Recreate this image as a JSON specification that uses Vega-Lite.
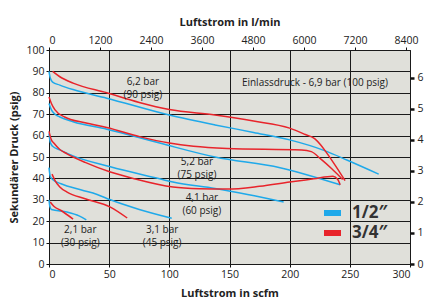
{
  "$schema": "https://vega.github.io/schema/vega-lite/v6.json",
  "width": 361,
  "height": 214,
  "autosize": "none",
  "padding": {"left": 49, "top": 50, "right": 20, "bottom": 40},
  "config": {
    "font": "Open Sans",
    "view": {"fill": "#e0e0da", "stroke": "#111", "strokeWidth": 1},
    "axis": {"labelFontSize": 10.5, "labelColor": "#222", "titleColor": "#222", "titleFontSize": 11, "titleFontWeight": "bold", "domain": false, "tickColor": "#111", "gridColor": "#1a1a1a", "gridOpacity": 1, "gridWidth": 1, "labelOverlap": false, "labelBound": false}
  },
  "datasets": {
    "curves": [
      {"size": "1/2″", "g": "90", "x": 0, "y": 90}, {"size": "1/2″", "g": "90", "x": 1, "y": 87}, {"size": "1/2″", "g": "90", "x": 3, "y": 85}, {"size": "1/2″", "g": "90", "x": 9, "y": 83.6}, {"size": "1/2″", "g": "90", "x": 20, "y": 81.5}, {"size": "1/2″", "g": "90", "x": 48, "y": 77.5}, {"size": "1/2″", "g": "90", "x": 100, "y": 69.6}, {"size": "1/2″", "g": "90", "x": 138, "y": 65}, {"size": "1/2″", "g": "90", "x": 170, "y": 61.5}, {"size": "1/2″", "g": "90", "x": 200, "y": 58}, {"size": "1/2″", "g": "90", "x": 229, "y": 53}, {"size": "1/2″", "g": "90", "x": 248, "y": 48.5}, {"size": "1/2″", "g": "90", "x": 274, "y": 42},
      {"size": "3/4″", "g": "90", "x": 3, "y": 90}, {"size": "3/4″", "g": "90", "x": 9, "y": 87.5}, {"size": "3/4″", "g": "90", "x": 20, "y": 84.5}, {"size": "3/4″", "g": "90", "x": 48, "y": 80}, {"size": "3/4″", "g": "90", "x": 75, "y": 75.5}, {"size": "3/4″", "g": "90", "x": 100, "y": 72.2}, {"size": "3/4″", "g": "90", "x": 138, "y": 69.6}, {"size": "3/4″", "g": "90", "x": 170, "y": 66.8}, {"size": "3/4″", "g": "90", "x": 200, "y": 63.5}, {"size": "3/4″", "g": "90", "x": 213, "y": 60.5}, {"size": "3/4″", "g": "90", "x": 221, "y": 58.5}, {"size": "3/4″", "g": "90", "x": 226, "y": 55.5}, {"size": "3/4″", "g": "90", "x": 230, "y": 52.5}, {"size": "3/4″", "g": "90", "x": 238, "y": 46}, {"size": "3/4″", "g": "90", "x": 246, "y": 39},
      {"size": "1/2″", "g": "75", "x": 0, "y": 75}, {"size": "1/2″", "g": "75", "x": 2, "y": 72}, {"size": "1/2″", "g": "75", "x": 5, "y": 70}, {"size": "1/2″", "g": "75", "x": 9, "y": 68.7}, {"size": "1/2″", "g": "75", "x": 20, "y": 66.5}, {"size": "1/2″", "g": "75", "x": 48, "y": 63}, {"size": "1/2″", "g": "75", "x": 92, "y": 56.5}, {"size": "1/2″", "g": "75", "x": 138, "y": 50}, {"size": "1/2″", "g": "75", "x": 192, "y": 45}, {"size": "1/2″", "g": "75", "x": 242, "y": 37},
      {"size": "3/4″", "g": "75", "x": 0, "y": 78}, {"size": "3/4″", "g": "75", "x": 2, "y": 75}, {"size": "3/4″", "g": "75", "x": 5, "y": 72}, {"size": "3/4″", "g": "75", "x": 13, "y": 68.7}, {"size": "3/4″", "g": "75", "x": 30, "y": 66}, {"size": "3/4″", "g": "75", "x": 48, "y": 63.8}, {"size": "3/4″", "g": "75", "x": 76, "y": 59.4}, {"size": "3/4″", "g": "75", "x": 100, "y": 56.5}, {"size": "3/4″", "g": "75", "x": 120, "y": 55}, {"size": "3/4″", "g": "75", "x": 148, "y": 54}, {"size": "3/4″", "g": "75", "x": 210, "y": 53.3}, {"size": "3/4″", "g": "75", "x": 218, "y": 52.5}, {"size": "3/4″", "g": "75", "x": 226, "y": 49}, {"size": "3/4″", "g": "75", "x": 235, "y": 44.5}, {"size": "3/4″", "g": "75", "x": 244, "y": 39.5},
      {"size": "1/2″", "g": "60", "x": 0, "y": 61}, {"size": "1/2″", "g": "60", "x": 1, "y": 57}, {"size": "1/2″", "g": "60", "x": 3, "y": 55}, {"size": "1/2″", "g": "60", "x": 9, "y": 53.3}, {"size": "1/2″", "g": "60", "x": 20, "y": 50.5}, {"size": "1/2″", "g": "60", "x": 51, "y": 45.4}, {"size": "1/2″", "g": "60", "x": 92, "y": 39.8}, {"size": "1/2″", "g": "60", "x": 103, "y": 38.3}, {"size": "1/2″", "g": "60", "x": 138, "y": 35.3}, {"size": "1/2″", "g": "60", "x": 165, "y": 32.5}, {"size": "1/2″", "g": "60", "x": 195, "y": 29},
      {"size": "3/4″", "g": "60", "x": 0, "y": 62}, {"size": "3/4″", "g": "60", "x": 2, "y": 58}, {"size": "3/4″", "g": "60", "x": 4, "y": 56.5}, {"size": "3/4″", "g": "60", "x": 9, "y": 53.5}, {"size": "3/4″", "g": "60", "x": 15, "y": 51.5}, {"size": "3/4″", "g": "60", "x": 30, "y": 47.5}, {"size": "3/4″", "g": "60", "x": 51, "y": 43}, {"size": "3/4″", "g": "60", "x": 70, "y": 40}, {"size": "3/4″", "g": "60", "x": 103, "y": 36}, {"size": "3/4″", "g": "60", "x": 125, "y": 35.2}, {"size": "3/4″", "g": "60", "x": 148, "y": 35}, {"size": "3/4″", "g": "60", "x": 175, "y": 36.3}, {"size": "3/4″", "g": "60", "x": 200, "y": 38.3}, {"size": "3/4″", "g": "60", "x": 220, "y": 39.8}, {"size": "3/4″", "g": "60", "x": 236, "y": 41}, {"size": "3/4″", "g": "60", "x": 240, "y": 39.5}, {"size": "3/4″", "g": "60", "x": 242, "y": 37},
      {"size": "1/2″", "g": "45", "x": 0, "y": 45}, {"size": "1/2″", "g": "45", "x": 1, "y": 41}, {"size": "1/2″", "g": "45", "x": 3, "y": 39.5}, {"size": "1/2″", "g": "45", "x": 10, "y": 37.5}, {"size": "1/2″", "g": "45", "x": 27, "y": 34.6}, {"size": "1/2″", "g": "45", "x": 40, "y": 32.5}, {"size": "1/2″", "g": "45", "x": 51, "y": 30}, {"size": "1/2″", "g": "45", "x": 75, "y": 25.5}, {"size": "1/2″", "g": "45", "x": 102, "y": 21.4},
      {"size": "3/4″", "g": "45", "x": 2.5, "y": 42}, {"size": "3/4″", "g": "45", "x": 5, "y": 39}, {"size": "3/4″", "g": "45", "x": 9, "y": 36}, {"size": "3/4″", "g": "45", "x": 15, "y": 33.6}, {"size": "3/4″", "g": "45", "x": 30, "y": 30.5}, {"size": "3/4″", "g": "45", "x": 51, "y": 26.6}, {"size": "3/4″", "g": "45", "x": 65, "y": 21.5},
      {"size": "1/2″", "g": "30", "x": 0, "y": 30}, {"size": "1/2″", "g": "30", "x": 0.7, "y": 27}, {"size": "1/2″", "g": "30", "x": 2, "y": 25.5}, {"size": "1/2″", "g": "30", "x": 15, "y": 24.3}, {"size": "1/2″", "g": "30", "x": 25, "y": 22.5}, {"size": "1/2″", "g": "30", "x": 31, "y": 20.6},
      {"size": "3/4″", "g": "30", "x": 1, "y": 29}, {"size": "3/4″", "g": "30", "x": 4, "y": 27}, {"size": "3/4″", "g": "30", "x": 10, "y": 25}, {"size": "3/4″", "g": "30", "x": 20, "y": 21}
    ],
    "labels": [
      {"t": "6,2 bar", "x": 78, "y": 85},
      {"t": "(90 psig)", "x": 78, "y": 79},
      {"t": "Einlassdruck - 6,9 bar (100 psig)", "x": 221, "y": 84.6},
      {"t": "5,2 bar", "x": 123, "y": 47.5},
      {"t": "(75 psig)", "x": 123, "y": 41.6},
      {"t": "4,1 bar", "x": 127, "y": 31},
      {"t": "(60 psig)", "x": 127, "y": 24.8},
      {"t": "2,1 bar", "x": 26, "y": 16},
      {"t": "(30 psig)", "x": 26, "y": 9.8},
      {"t": "3,1 bar", "x": 94, "y": 16},
      {"t": "(45 psig)", "x": 94, "y": 10}
    ],
    "secondary": [
      {"lpm": 0, "bar": 0},
      {"lpm": 8495, "bar": 6.897}
    ]
  },
  "layer": [
    {
      "layer": [
        {
          "data": {"name": "curves"},
          "mark": {"type": "line", "strokeWidth": 1.5, "interpolate": "monotone"},
          "encoding": {
            "x": {"field": "x", "type": "quantitative", "scale": {"domain": [0, 300], "nice": false},
              "axis": {"title": "Luftstrom in scfm", "values": [0, 50, 100, 150, 200, 250, 300], "tickSize": 3, "labelPadding": 2, "titlePadding": 8, "grid": true}},
            "y": {"field": "y", "type": "quantitative", "scale": {"domain": [0, 100], "nice": false},
              "axis": {"title": "Sekundärer Druck (psig)", "values": [0, 10, 20, 30, 40, 50, 60, 70, 80, 90, 100], "tickSize": 3, "labelPadding": 2, "titlePadding": 6, "grid": true}},
            "color": {"field": "size", "type": "nominal",
              "scale": {"domain": ["1/2″", "3/4″"], "range": ["#1fa9ea", "#e8242b"]},
              "legend": {"title": null, "orient": "none", "legendX": 272, "legendY": 153, "symbolType": "stroke", "symbolSize": 289, "symbolStrokeWidth": 6, "labelFontSize": 17, "labelFontWeight": "bold", "labelColor": "#333", "labelOffset": 8, "rowPadding": 0, "clipHeight": 20}},
            "detail": {"field": "g"}
          }
        },
        {
          "data": {"name": "labels"},
          "mark": {"type": "text", "fontSize": 10, "color": "#222"},
          "encoding": {
            "x": {"field": "x", "type": "quantitative", "scale": {"domain": [0, 300], "nice": false},
              "axis": {"title": "Luftstrom in scfm", "values": [0, 50, 100, 150, 200, 250, 300], "tickSize": 3, "labelPadding": 2, "titlePadding": 8, "grid": true}},
            "y": {"field": "y", "type": "quantitative", "scale": {"domain": [0, 100], "nice": false},
              "axis": {"title": "Sekundärer Druck (psig)", "values": [0, 10, 20, 30, 40, 50, 60, 70, 80, 90, 100], "tickSize": 3, "labelPadding": 2, "titlePadding": 6, "grid": true}},
            "text": {"field": "t"}
          }
        }
      ]
    },
    {
      "data": {"name": "secondary"},
      "mark": {"type": "point", "opacity": 0},
      "encoding": {
        "x": {"field": "lpm", "type": "quantitative", "scale": {"domain": [0, 8495], "nice": false},
          "axis": {"orient": "top", "title": "Luftstrom in l/min", "format": "d", "values": [0, 1200, 2400, 3600, 4800, 6000, 7200, 8400], "tickSize": 3, "labelPadding": 2, "titlePadding": 8, "grid": false}},
        "y": {"field": "bar", "type": "quantitative", "scale": {"domain": [0, 6.897], "nice": false},
          "axis": {"orient": "right", "title": "Sekundärer Druck (bar)", "values": [0, 1, 2, 3, 4, 5, 6], "tickSize": 4, "tickWidth": 2.5, "labelPadding": 3, "titlePadding": 6, "grid": false}}
      }
    }
  ],
  "resolve": {"scale": {"x": "independent", "y": "independent"}}
}
